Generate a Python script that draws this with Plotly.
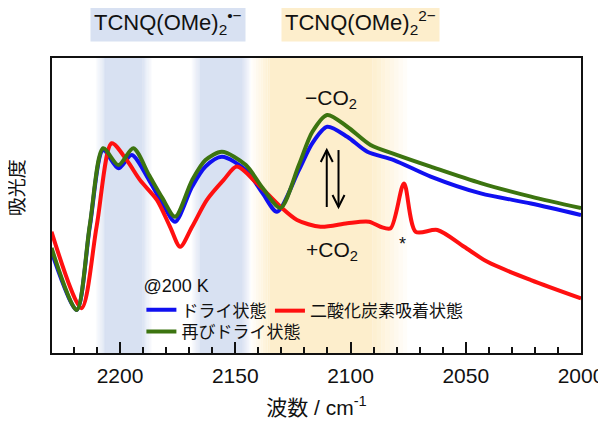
import plotly.graph_objects as go

# ---- data ----
wn_dry = [2229.7, 2218.8, 2213.1, 2207.3, 2200.7, 2194.9, 2187.4, 2181.6, 2176.1, 2168.7,
          2162.9, 2155.8, 2145.4, 2138.1, 2131.9, 2122.4, 2116.6, 2110.1, 2101.4, 2092.7,
          2081.2, 2065.2, 2043.5, 2021.7, 2000.0]
abs_dry = [0.343, 0.146, 0.428, 0.688, 0.626, 0.671, 0.586, 0.507, 0.445, 0.564,
           0.632, 0.665, 0.620, 0.541, 0.479, 0.620, 0.711, 0.767, 0.733, 0.682,
           0.654, 0.598, 0.541, 0.507, 0.468]

wn_co2 = [2229.7, 2216.7, 2210.1, 2203.6, 2197.1, 2191.3, 2184.0, 2178.3, 2173.9, 2168.7,
          2162.3, 2155.1, 2149.3, 2140.6, 2130.4, 2123.2, 2113.0, 2101.4, 2092.0, 2087.0,
          2082.6, 2076.8, 2071.7, 2062.3, 2050.7, 2040.6, 2021.7, 2000.0]
abs_co2 = [0.411, 0.152, 0.431, 0.711, 0.654, 0.586, 0.519, 0.428, 0.360, 0.428,
           0.519, 0.586, 0.632, 0.575, 0.496, 0.451, 0.428, 0.440, 0.445, 0.428,
           0.423, 0.575, 0.411, 0.417, 0.360, 0.309, 0.247, 0.185]

wn_redry = [2229.7, 2218.8, 2213.1, 2207.3, 2200.7, 2194.2, 2187.4, 2181.6, 2176.1, 2168.7,
            2162.9, 2155.8, 2145.4, 2138.1, 2130.4, 2122.4, 2116.6, 2110.1, 2101.4, 2091.3,
            2079.7, 2065.2, 2043.5, 2021.7, 2000.0]
abs_redry = [0.356, 0.146, 0.434, 0.694, 0.637, 0.694, 0.603, 0.525, 0.462, 0.586,
             0.654, 0.682, 0.637, 0.559, 0.492, 0.637, 0.749, 0.807, 0.767, 0.705,
             0.671, 0.632, 0.576, 0.530, 0.491]

series_names = ["ドライ状態", "二酸化炭素吸着状態", "再びドライ状態"]
x_tick_vals = [2200, 2150, 2100, 2050, 2000]
x_tick_text = ["2200", "2150", "2100", "2050", "2000"]
# shaded spectral regions (wavenumber ranges: core, with soft edges)
blue_bands = [(2206.5, 2190.1), (2165.4, 2146.7)]
yellow_band = (2135.0, 2090.4)

BLUE_BG = (216, 225, 242)
YEL_BG = (253, 238, 204)

fig = go.Figure()

fig.add_trace(go.Scatter(x=wn_dry, y=abs_dry, mode="lines", name=series_names[0],
                         line=dict(color="#1010f0", width=4, shape="spline", smoothing=0.8),
                         legend="legend", showlegend=True))
fig.add_trace(go.Scatter(x=wn_co2, y=abs_co2, mode="lines", name=series_names[1],
                         line=dict(color="#ff1010", width=4, shape="spline", smoothing=0.8),
                         legend="legend3", showlegend=True))
fig.add_trace(go.Scatter(x=wn_redry, y=abs_redry, mode="lines", name=series_names[2],
                         line=dict(color="#3c7410", width=4, shape="spline", smoothing=0.8),
                         legend="legend2", showlegend=True))

shapes = []


def band(x0, x1, rgb, edge_l, edge_r):
    col = "rgb(%d,%d,%d)" % rgb
    shapes.append(dict(type="rect", xref="x", yref="paper", x0=x0, x1=x1, y0=0, y1=1,
                       fillcolor=col, line=dict(width=0), layer="below"))
    n = 8
    for i in range(n):
        op = 1 - (i + 1) / (n + 1)
        c = "rgba(%d,%d,%d,%.3f)" % (rgb[0], rgb[1], rgb[2], op)
        shapes.append(dict(type="rect", xref="x", yref="paper",
                           x0=x0 + i * edge_l / n, x1=x0 + (i + 1) * edge_l / n, y0=0, y1=1,
                           fillcolor=c, line=dict(width=0), layer="below"))
        shapes.append(dict(type="rect", xref="x", yref="paper",
                           x0=x1 - i * edge_r / n, x1=x1 - (i + 1) * edge_r / n, y0=0, y1=1,
                           fillcolor=c, line=dict(width=0), layer="below"))


band(blue_bands[0][0], blue_bands[0][1], BLUE_BG, 4.0, 4.0)
band(blue_bands[1][0], blue_bands[1][1], BLUE_BG, 3.5, 3.5)
band(yellow_band[0], yellow_band[1], YEL_BG, 8.0, 15.0)

# double arrow (up on left, down on right)
ax_up = 2110.3
ax_dn = 2105.2
y_lo = 0.495
y_hi = 0.688
shapes.append(dict(type="line", xref="x", yref="y", x0=ax_up, x1=ax_up, y0=y_lo, y1=y_hi,
                   line=dict(color="black", width=2)))
shapes.append(dict(type="line", xref="x", yref="y", x0=ax_dn, x1=ax_dn, y0=y_lo, y1=y_hi,
                   line=dict(color="black", width=2)))
shapes.append(dict(type="path", xref="x", yref="y", xsizemode="pixel", ysizemode="pixel",
                   xanchor=ax_up, yanchor=y_hi, path="M -6,-12 L 0,0 L 6,-12",
                   line=dict(color="black", width=2)))
shapes.append(dict(type="path", xref="x", yref="y", xsizemode="pixel", ysizemode="pixel",
                   xanchor=ax_dn, yanchor=y_lo, path="M -6,12 L 0,0 L 6,12",
                   line=dict(color="black", width=2)))

annotations = [
    dict(text="TCNQ(OMe)<sub>2</sub><sup>•−</sup>", xref="paper", yref="paper",
         x=0.219, y=1.119, xanchor="center", yanchor="middle", showarrow=False,
         font=dict(size=22, color="#111"), bgcolor="rgb(216,225,242)", borderpad=3),
    dict(text="TCNQ(OMe)<sub>2</sub><sup>2−</sup>", xref="paper", yref="paper",
         x=0.584, y=1.119, xanchor="center", yanchor="middle", showarrow=False,
         font=dict(size=22, color="#111"), bgcolor="rgb(253,238,204)", borderpad=3),
    dict(text="−CO<sub>2</sub>", x=2108.6, y=0.86, xref="x", yref="y", showarrow=False,
         xanchor="center", yanchor="middle", font=dict(size=21, color="#111")),
    dict(text="+CO<sub>2</sub>", x=2108.0, y=0.345, xref="x", yref="y", showarrow=False,
         xanchor="center", yanchor="middle", font=dict(size=21, color="#111")),
    dict(text="*", x=2077.4, y=0.37, xref="x", yref="y", showarrow=False,
         xanchor="center", yanchor="middle", font=dict(size=18, color="#111")),
    dict(text="吸光度", xref="paper", yref="paper", x=-0.066, y=0.559, textangle=-90,
         xanchor="center", yanchor="middle", showarrow=False,
         font=dict(size=19, color="#111")),
]

leg_common = dict(orientation="h", xanchor="left", yanchor="top", visible=True,
                  bgcolor="rgba(0,0,0,0)", font=dict(size=17), itemwidth=30)

fig.update_layout(
    # page body has an 8px margin, so the figure is 8px smaller than the window
    width=598, height=416,
    margin=dict(l=44, r=25, t=50, b=71),
    showlegend=True,
    paper_bgcolor="white", plot_bgcolor="white",
    font=dict(family="Liberation Sans, Arial, Noto Sans CJK JP", color="#111"),
    shapes=shapes, annotations=annotations,
    xaxis=dict(range=[2229.5, 2000], showgrid=False, zeroline=False, automargin=False,
               showline=True, linecolor="#111", linewidth=2, mirror=True,
               tickmode="array", tickvals=x_tick_vals, ticktext=x_tick_text,
               ticks="inside", ticklen=11, tickwidth=1.5, tickcolor="#111",
               tickfont=dict(size=21), ticklabelstandoff=3,
               minor=dict(dtick=10, ticks="inside", ticklen=6, tickwidth=1.5, tickcolor="#111"),
               title=dict(text="波数 / cm<sup>-1</sup>", font=dict(size=21), standoff=14)),
    yaxis=dict(range=[0, 1], showgrid=False, zeroline=False, showticklabels=False,
               automargin=False,
               showline=True, linecolor="#111", linewidth=2, mirror=True, ticks=""),
    legend=dict(x=0.169, y=0.285, title=dict(text="@200 K", side="top", font=dict(size=18)),
                **leg_common),
    legend3=dict(x=0.412, y=0.203, **leg_common),
    legend2=dict(x=0.169, y=0.132, **leg_common),
)

fig.write_html("out.html")
